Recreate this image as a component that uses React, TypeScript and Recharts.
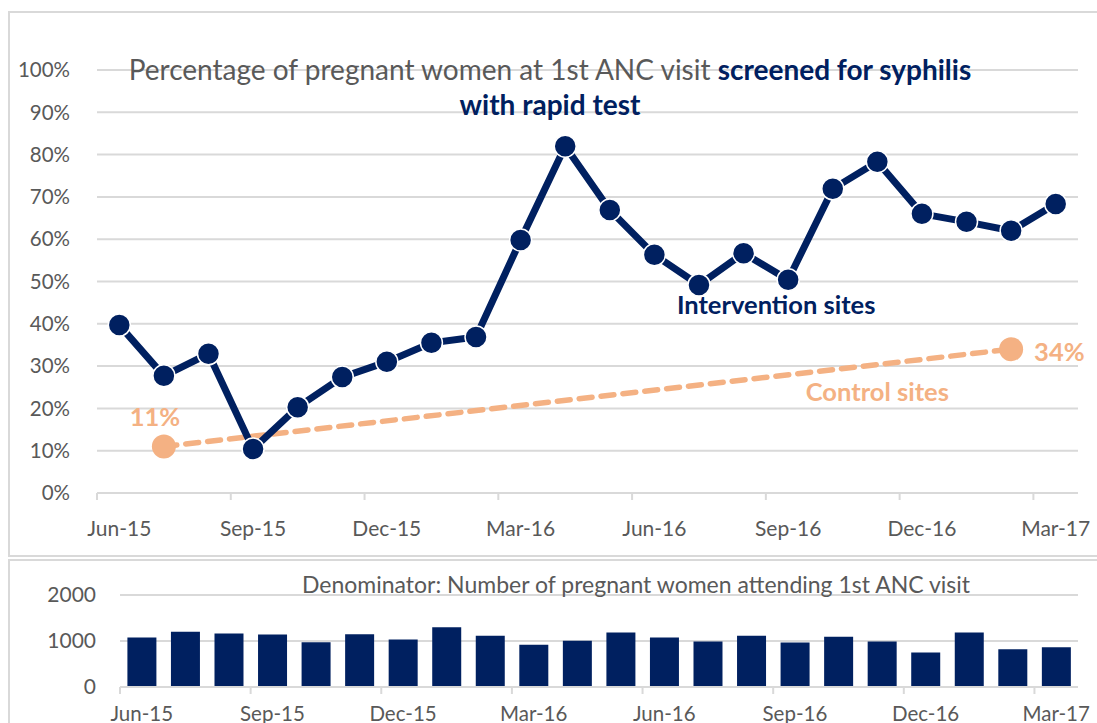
import React from 'react';
import { LineChart, Line, XAxis, YAxis, CartesianGrid, BarChart, Bar, LabelList, ReferenceDot } from 'recharts';

const months = ['Jun-15','Jul-15','Aug-15','Sep-15','Oct-15','Nov-15','Dec-15','Jan-16','Feb-16','Mar-16','Apr-16','May-16','Jun-16','Jul-16','Aug-16','Sep-16','Oct-16','Nov-16','Dec-16','Jan-17','Feb-17','Mar-17'];
const interventionPct = [39.7, 27.7, 32.9, 10.4, 20.3, 27.4, 31.0, 35.5, 36.9, 59.8, 82.0, 66.9, 56.3, 49.2, 56.7, 50.4, 71.9, 78.3, 66.0, 64.1, 62.0, 68.3];
const controlPct: (number | null)[] = [null, 11, null, null, null, null, null, null, null, null, null, null, null, null, null, null, null, null, null, null, 34, null];
const denominators = [1076, 1199, 1162, 1141, 975, 1148, 1032, 1300, 1112, 920, 1004, 1184, 1076, 989, 1112, 968, 1090, 989, 751, 1184, 823, 866];
const pctTicks = [0, 10, 20, 30, 40, 50, 60, 70, 80, 90, 100];
const countTicks = [0, 1000, 2000];

const NAVY = '#002060';
const PEACH = '#F4B183';
const GRAY = '#595959';
const GRID = '#D9D9D9';
const FONT = 'Lato, "Noto Sans", sans-serif';

const lineData = months.map((m, i) => ({ month: m, intervention: interventionPct[i], control: controlPct[i] }));
const barData = months.map((m, i) => ({ month: m, count: denominators[i] }));

const makeTick = (labelOffset: number, fontSize: number) => (props: any) => {
  const { x, y, payload } = props;
  const off = payload && typeof payload.offset === 'number' ? payload.offset : 0;
  return (
    <g>
      <line x1={x - off} x2={x - off} y1={y} y2={y + 7} stroke={GRID} strokeWidth={2} />
      <text x={x} y={y + labelOffset} textAnchor="middle" dominantBaseline="central" fill={GRAY} fontSize={fontSize} fontFamily={FONT}>
        {payload.value}
      </text>
    </g>
  );
};

const controlLabel = (props: any) => {
  const { x, y, value, index } = props;
  if (value === null || value === undefined) return null;
  const first = index === 1 || value === 11;
  if (first) {
    return (
      <text x={x - 9} y={y - 30} textAnchor="middle" dominantBaseline="central" fill={PEACH} fontSize={25.5} fontWeight={700} fontFamily={FONT}>
        {value}%
      </text>
    );
  }
  return (
    <text x={x + 23} y={y + 2} textAnchor="start" dominantBaseline="central" fill={PEACH} fontSize={25.5} fontWeight={700} fontFamily={FONT}>
      {value}%
    </text>
  );
};

export default function App() {
  return (
    <div style={{ position: 'absolute', left: 0, top: 0, width: 1097, height: 723, overflow: 'hidden', background: '#fff', fontFamily: FONT }}>
      <div style={{ position: 'absolute', left: 8, top: 11, width: 1200, height: 546, border: `2px solid ${GRID}`, boxSizing: 'border-box' }} />
      <div style={{ position: 'absolute', left: 8, top: 559, width: 1200, height: 300, border: `2px solid ${GRID}`, boxSizing: 'border-box' }} />

      <div style={{ position: 'absolute', left: 0, top: 0 }}>
        <LineChart width={1097} height={560} data={lineData} margin={{ top: 70, right: 19, bottom: 7, left: 0 }}>
          <CartesianGrid vertical={false} stroke={GRID} strokeWidth={2} />
          <XAxis dataKey="month" scale="band" interval={2} height={60} axisLine={{ stroke: GRID, strokeWidth: 2 }} tickLine={false} tickSize={0} tickMargin={0} tick={makeTick(34, 21)} />
          <YAxis domain={[0, 100]} ticks={pctTicks} tickFormatter={(v: number) => `${v}%`} width={97} axisLine={false} tickLine={false} tickMargin={21} tick={{ fill: GRAY, fontSize: 20.5, fontFamily: FONT }} />
          <Line dataKey="control" type="linear" connectNulls stroke={PEACH} strokeWidth={5.5} strokeDasharray="13 9" strokeLinecap="round" dot={{ r: 12, fill: PEACH, stroke: 'none' }} activeDot={false} isAnimationActive={false}>
            <LabelList dataKey="control" content={controlLabel} />
          </Line>
          <Line dataKey="intervention" type="linear" stroke={NAVY} strokeWidth={7} dot={{ r: 11, fill: NAVY, stroke: '#fff', strokeWidth: 1.5 }} activeDot={false} isAnimationActive={false} />
          <ReferenceDot x="Nov-16" y={24} r={1} fill="none" stroke="none" label={{ value: 'Control sites', position: 'center', fill: PEACH, fontSize: 25.5, fontWeight: 700, fontFamily: FONT }} />
          <ReferenceDot x="Sep-16" y={44.5} r={1} fill="none" stroke="none" label={{ value: 'Intervention sites', position: 'center', fill: NAVY, fontSize: 25.5, fontWeight: 700, fontFamily: FONT, dx: -12 }} />
        </LineChart>
      </div>

      <div style={{ position: 'absolute', left: 0, top: 52, width: 1100, textAlign: 'center', fontSize: 28, lineHeight: '35px', color: GRAY, whiteSpace: 'nowrap' }}>
        <div>Percentage of pregnant women at 1st ANC visit <span style={{ color: NAVY, fontWeight: 700 }}>screened for syphilis</span></div>
        <div style={{ color: NAVY, fontWeight: 700 }}>with rapid test</div>
      </div>

      <div style={{ position: 'absolute', left: 0, top: 560 }}>
        <BarChart width={1097} height={163} data={barData} margin={{ top: 35, right: 19, bottom: 0, left: 0 }} barCategoryGap="17%">
          <CartesianGrid vertical={false} stroke={GRID} strokeWidth={2} />
          <XAxis dataKey="month" interval={2} height={36} axisLine={{ stroke: GRID, strokeWidth: 2 }} tickLine={false} tickSize={0} tickMargin={0} tick={makeTick(26, 20.5)} />
          <YAxis domain={[0, 2000]} ticks={countTicks} width={120} axisLine={false} tickLine={false} tickMargin={18} tick={{ fill: GRAY, fontSize: 21, fontFamily: FONT }} />
          <Bar dataKey="count" fill={NAVY} isAnimationActive={false} />
        </BarChart>
      </div>

      <div style={{ position: 'absolute', left: 0, top: 571, width: 1272, textAlign: 'center', fontSize: 23, lineHeight: '26px', color: GRAY, whiteSpace: 'nowrap' }}>
        Denominator: Number of pregnant women attending 1st ANC visit
      </div>
    </div>
  );
}
